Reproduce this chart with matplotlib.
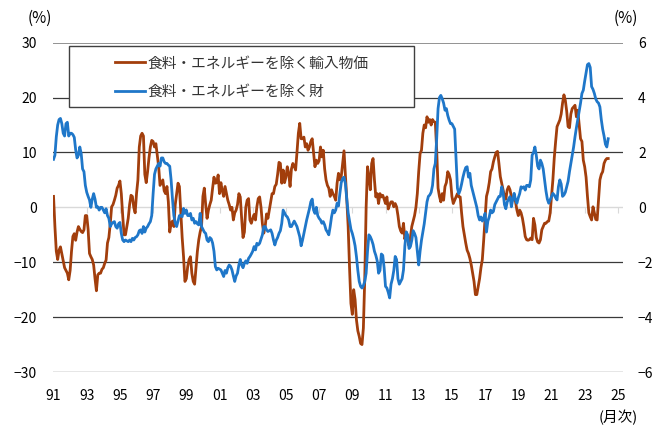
import matplotlib.pyplot as plt
import matplotlib.patches as mpatches
import numpy as np

plt.rcParams['font.family'] = ['Noto Sans CJK JP', 'DejaVu Sans']

start_year = 1991

# 食料・エネルギーを除く輸入物価 (前年比, %), monthly from 1991/01
import_prices = [
    2.0, -3.5, -8.0, -9.5, -7.8, -7.2, -8.5, -9.8, -11.0, -11.5, -12.0, -13.2,   # 1991
    -11.5, -8.0, -5.3, -4.8, -6.0, -4.5, -3.5, -4.0, -4.4, -4.6, -4.1, -1.5,     # 1992
    -1.5, -4.0, -8.4, -9.0, -9.5, -10.5, -13.0, -15.2, -12.3, -12.0, -12.0, -11.3,  # 1993
    -11.0, -10.2, -9.6, -6.5, -5.5, -3.0, 0.1, 0.5, 1.3, 2.2, 3.5, 4.0,          # 1994
    4.8, 2.5, -1.5, -5.0, -5.0, -3.5, -2.0, 0.5, 2.2, 2.0, 0.0, -1.0,            # 1995
    2.5, 5.0, 11.0, 13.0, 13.5, 13.0, 6.0, 4.5, 6.5, 9.0, 11.0, 12.2,            # 1996
    12.0, 11.0, 11.6, 9.5, 7.4, 4.0, 4.5, 5.0, 3.0, 2.5, 3.8, 1.0,               # 1997
    -4.5, -3.0, -2.5, -3.5, 0.5, 2.5, 4.4, 3.8, -1.0, -5.5, -9.0, -13.5,         # 1998
    -13.0, -10.8, -9.5, -9.0, -12.0, -13.5, -14.0, -11.0, -8.0, -5.9, -4.5, -3.5,  # 1999
    2.0, 3.5, 0.5, -2.0, -0.5, 0.5, 1.3, 3.5, 5.5, 4.4, 4.5, 5.9,                # 2000
    2.5, 4.5, 3.0, 2.0, 3.8, 2.5, 1.3, 0.5, -0.5, 0.0, -2.3, -1.0,               # 2001
    -0.5, 0.5, 2.5, 1.9, -2.0, -5.5, -4.5, 0.0, 1.3, 1.6, -2.3, -2.9,            # 2002
    -2.0, -1.3, -2.3, 0.1, 1.6, 1.9, 0.0, -3.0, -4.7, -3.5, -1.2, -2.0,          # 2003
    -0.5, 1.0, 2.5, 2.5, 3.8, 4.2, 6.0, 8.2, 8.0, 4.4, 6.8, 4.5,                 # 2004
    5.5, 7.4, 6.2, 3.8, 7.0, 8.0, 7.5, 6.8, 10.0, 13.5, 15.3, 12.5,              # 2005
    12.5, 12.8, 11.0, 11.6, 10.4, 11.0, 12.0, 12.5, 10.0, 7.4, 8.6, 8.0,         # 2006
    8.5, 11.0, 9.2, 10.4, 7.0, 5.0, 4.0, 3.5, 2.0, 3.2, 2.5, 2.0,                # 2007
    1.3, 4.4, 6.2, 5.0, 5.6, 8.0, 10.3, 6.0, 1.5, -3.5, -11.0, -17.5,            # 2008
    -19.5, -15.0, -16.8, -20.5, -22.5, -23.5, -24.8, -25.0, -22.0, -13.0, 0.0, 7.4,  # 2009
    5.5, 3.2, 8.0, 8.9, 5.0, 1.9, 2.5, 0.7, 2.5, 1.9, 2.2, 1.5,                  # 2010
    0.7, 1.9, -0.3, 0.5, 1.0, 1.0, 0.1, 0.7, 0.1, -1.5, -3.5, -4.3,              # 2011
    -4.7, -2.9, -5.8, -4.5, -6.0, -7.0, -5.5, -3.5, -2.5, -1.5, 0.0, 2.5,        # 2012
    6.5, 9.8, 10.4, 13.5, 15.0, 14.5, 16.5, 15.5, 16.0, 15.0, 16.0, 15.6,        # 2013
    15.5, 10.5, 3.5, 2.0, 1.0, 2.5, 1.3, 3.8, 4.5, 6.5, 6.0, 5.0,                # 2014
    2.0, 0.7, 1.3, 1.9, 2.5, 1.9, 1.9, -1.0, -3.5, -5.0, -6.5, -7.8,             # 2015
    -8.4, -9.3, -10.5, -12.0, -13.5, -15.9, -15.9, -14.5, -13.0, -11.0, -9.5, -5.9,  # 2016
    -2.0, 2.0, 3.0, 4.5, 6.5, 7.0, 8.3, 9.2, 10.0, 10.2, 8.0, 5.6,               # 2017
    4.4, 3.2, 2.0, 1.5, 3.2, 3.8, 3.2, 2.0, 1.3, 1.9, 1.0, -0.5,                 # 2018
    -1.5, -0.5, -1.0, -2.0, -3.5, -5.3, -5.9, -6.0, -5.9, -5.6, -5.9, -2.0,      # 2019
    -3.2, -5.5, -6.3, -6.5, -5.9, -4.1, -3.5, -2.9, -2.9, -2.6, -2.5, -1.1,      # 2020
    2.0, 5.0, 9.0, 12.0, 14.7, 15.3, 15.9, 17.0, 19.0, 20.5, 19.5, 17.5,         # 2021
    14.7, 14.5, 17.0, 18.0, 18.3, 18.6, 16.5, 17.7, 15.0, 12.5, 12.0, 8.6,       # 2022
    7.4, 5.5, 2.0, -1.0, -1.7, -2.3, 0.1, -1.0, -2.2, -2.3, 1.3, 5.0,            # 2023
    6.0, 6.5, 8.0, 8.6, 8.9, 8.9,                                                # 2024
]

# 食料・エネルギーを除く財 (前年比, %), right axis
goods = [
    1.75, 1.9, 2.57, 3.0, 3.2, 3.24, 3.05, 2.7, 2.6, 3.05, 3.1, 2.6,             # 1991
    2.7, 2.7, 2.65, 2.55, 2.1, 1.8, 1.9, 2.2, 1.96, 1.4, 1.3, 0.8,               # 1992
    0.55, 0.4, 0.27, 0.0, 0.3, 0.5, 0.3, 0.0, 0.02, -0.1, 0.0, 0.0,              # 1993
    -0.1, -0.2, -0.05, -0.3, -0.4, -0.7, -0.6, -0.55, -0.52, -0.7, -0.76, -0.6,  # 1994
    -0.55, -0.95, -1.19, -1.25, -1.19, -1.22, -1.25, -1.19, -1.25, -1.13, -1.19, -1.1,  # 1995
    -1.07, -1.0, -0.85, -0.82, -0.95, -0.7, -0.9, -0.76, -0.7, -0.6, -0.52, -0.3,  # 1996
    0.5, 1.2, 1.4, 1.5, 1.6, 1.5, 1.8, 1.8, 1.66, 1.6, 1.6, 1.54,                # 1997
    1.5, 1.0, 0.3, -0.3, -0.58, -0.7, -0.5, -0.3, -0.3, -0.34, -0.04, -0.22,     # 1998
    -0.1, -0.3, -0.3, -0.22, -0.46, -0.4, -0.58, -0.52, -0.6, -0.64, -0.22, -0.7,  # 1999
    -0.8, -0.9, -0.95, -1.19, -1.25, -1.1, -1.15, -1.3, -1.6, -2.16, -2.28, -2.22,  # 2000
    -2.25, -2.28, -2.4, -2.52, -2.3, -2.4, -2.2, -2.1, -2.15, -2.28, -2.5, -2.7,  # 2001
    -2.5, -2.4, -2.1, -1.9, -2.1, -2.2, -2.04, -1.95, -2.04, -1.86, -1.79, -1.7,  # 2002
    -1.6, -1.43, -1.55, -1.31, -1.37, -1.31, -1.15, -1.0, -0.7, -0.7, -0.82, -0.88,  # 2003
    -0.85, -0.82, -0.95, -1.19, -1.37, -1.2, -1.1, -0.95, -0.85, -0.58, -0.1, -0.2,  # 2004
    -0.3, -0.35, -0.46, -0.7, -0.7, -0.6, -0.5, -0.6, -0.7, -0.88, -1.07, -1.4,  # 2005
    -1.2, -0.95, -0.7, -0.46, -0.25, -0.05, 0.2, 0.3, -0.1, -0.22, 0.0, -0.3,    # 2006
    -0.4, -0.46, -0.58, -0.52, -0.64, -0.82, -0.9, -1.0, -0.7, -0.34, -0.1, -0.2,  # 2007
    -0.1, 0.15, 0.05, 0.5, 0.9, 1.05, 1.1, 0.87, 0.3, -0.2, -0.5, -0.8,          # 2008
    -0.95, -1.15, -1.4, -1.8, -2.3, -2.7, -2.88, -2.94, -2.85, -2.7, -2.4, -1.6,  # 2009
    -1.0, -1.07, -1.19, -1.35, -1.6, -1.75, -1.95, -2.4, -2.3, -1.7, -1.75, -2.2,  # 2010
    -2.88, -2.94, -3.1, -3.3, -2.8, -2.6, -2.3, -1.79, -1.9, -2.6, -2.8, -2.7,   # 2011
    -2.6, -2.28, -1.4, -0.9, -1.0, -1.5, -1.43, -1.2, -0.85, -0.95, -1.1, -1.6,  # 2012
    -2.1, -1.6, -1.2, -0.9, -0.6, -0.2, 0.2, 0.4, 0.45, 0.55, 0.8, 1.4,          # 2013
    1.6, 2.5, 3.6, 4.0, 4.08, 3.96, 3.8, 3.54, 3.6, 3.35, 3.18, 3.05,            # 2014
    3.05, 2.95, 2.85, 1.8, 0.7, 0.5, 0.63, 0.85, 1.1, 1.3, 1.45, 1.48,           # 2015
    1.1, 1.24, 0.8, 0.6, 0.4, 0.2, 0.0, -0.3, -0.46, -0.35, -0.5, -0.4,          # 2016
    -0.22, -0.9, -0.5, -0.35, -0.1, -0.2, -0.15, 0.1, 0.2, 0.3, 0.4, 0.4,        # 2017
    0.75, 0.55, 0.1, -0.05, 0.2, 0.3, 0.39, 0.02, 0.3, 0.51, 0.27, 0.15,         # 2018
    0.35, 0.5, 0.75, 0.7, 0.75, 0.63, 0.8, 0.8, 0.75, 1.0, 1.9, 2.0,             # 2019
    2.2, 1.9, 1.5, 1.4, 1.72, 1.6, 1.4, 1.0, 0.6, 0.3, 0.15, 0.27,               # 2020
    0.39, 0.51, 0.45, 0.35, 0.27, 0.75, 1.0, 0.85, 0.4, 0.45, 0.55, 0.75,        # 2021
    0.95, 1.3, 1.6, 1.9, 2.2, 2.57, 2.9, 3.2, 3.5, 3.8, 4.15, 4.27,              # 2022
    4.6, 4.9, 5.2, 5.24, 5.1, 4.4, 4.3, 4.15, 3.95, 3.85, 3.8, 3.66,             # 2023
    3.2, 2.85, 2.6, 2.3, 2.2, 2.5,                                               # 2024
]

tick_years = list(range(1991, 2026, 2))
tick_labels = [f"{y % 100:02d}" for y in tick_years]
left_ticks = [-30, -20, -10, 0, 10, 20, 30]
right_ticks = [-6, -4, -2, 0, 2, 4, 6]

label_import = "食料・エネルギーを除く輸入物価"
label_goods = "食料・エネルギーを除く財"

months = start_year + np.arange(len(import_prices)) / 12

W, H = 656, 425
fig = plt.figure(figsize=(W / 100, H / 100), dpi=100)
ax = fig.add_axes([52.7 / W, 1 - 372 / H, (622.7 - 52.7) / W, (372 - 42.7) / H])
ax.set_xlim(1990.95, 2025.29)
ax.set_ylim(-30, 30)

for v in left_ticks:
    if v == 0:
        ax.axhline(v, color="#d9d9d9", lw=1.0, zorder=1)
    elif v == 30:
        ax.axhline(v, color="#808080", lw=1.2, zorder=1)
    else:
        ax.axhline(v, color="#3a3a3a", lw=0.9, zorder=1)

ln1, = ax.plot(months, import_prices, color="#A23E0C", lw=2.0, zorder=3,
               label=label_import)

ax2 = ax.twinx()
ax2.set_ylim(-6, 6)
ln2, = ax2.plot(months, goods, color="#1F77C9", lw=2.0, zorder=3,
                label=label_goods)

for a in (ax, ax2):
    for s in a.spines.values():
        s.set_visible(False)

ax.set_yticks(left_ticks)
ax.set_xticks(tick_years, tick_labels)
ax.tick_params(axis="y", length=0, labelsize=10, pad=11.3, colors="black")
ax.tick_params(axis="x", length=0, labelsize=10, pad=12.5, colors="black")
ax2.set_yticks(right_ticks)
ax2.tick_params(axis="y", length=0, labelsize=10, pad=11, colors="black")

# small category ticks on the zero line
secax = ax.secondary_xaxis(0.5)
secax.set_alignment("bottom")
secax.set_xticks(tick_years)
secax.tick_params(axis="x", direction="out", length=4, width=0.8,
                  color="#d9d9d9", labelbottom=False, labeltop=False)
for s in secax.spines.values():
    s.set_visible(False)

# legend box
frame = mpatches.Rectangle((69.3 / W, 1 - 106.7 / H), 344.7 / W, 60.7 / H,
                           transform=fig.transFigure, facecolor="white",
                           edgecolor="#404040", lw=1.0, zorder=4, clip_on=False)
ax2.add_patch(frame)
leg = ax2.legend([ln1, ln2], [label_import, label_goods], loc="upper left",
                 bbox_to_anchor=(115 / W, 1 - 56.5 / H),
                 bbox_transform=fig.transFigure, frameon=False,
                 fontsize=10.6, handlelength=2.05, handletextpad=0.15,
                 labelspacing=1.0, borderpad=0, borderaxespad=0)
leg.set_zorder(5)
for t in leg.get_texts():
    t.set_color("#333333")

fig.text(40 / W, 1 - 18 / H, "(%)", ha="center", va="center", fontsize=11)
fig.text(626 / W, 1 - 18 / H, "(%)", ha="center", va="center", fontsize=11)
fig.text(618 / W, 1 - 417 / H, "(月次)", ha="center", va="center", fontsize=10.5)

fig.savefig("out.png", dpi=100)
